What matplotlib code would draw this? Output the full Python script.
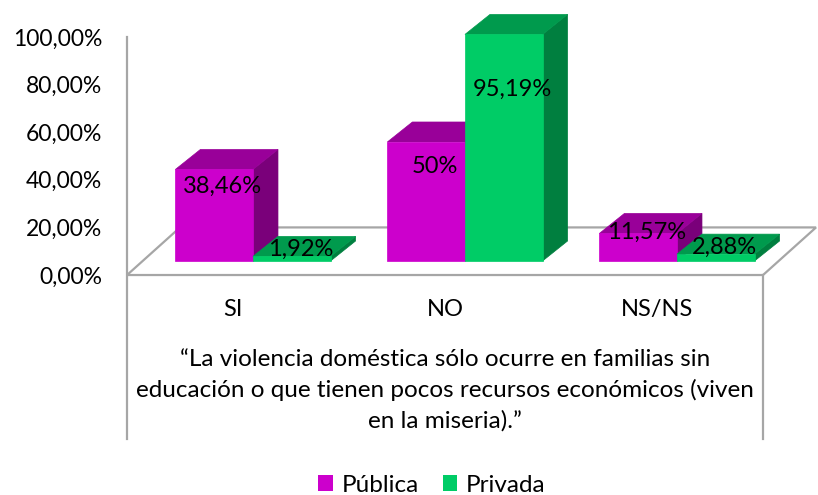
import matplotlib
matplotlib.use("Agg")
import matplotlib.pyplot as plt
from matplotlib.patches import Polygon, Patch

plt.rcParams['font.family'] = ['Lato', 'DejaVu Sans']

categorias = ["SI", "NO", "NS/NS"]
publica = [38.46, 50.0, 11.57]
privada = [1.92, 95.19, 2.88]
etiquetas_pub = ["38,46%", "50%", "11,57%"]
etiquetas_priv = ["1,92%", "95,19%", "2,88%"]
titulo_eje = ("“La violencia doméstica sólo ocurre en familias sin\n"
              "educación o que tienen pocos recursos económicos (viven\n"
              "en la miseria).”")

# colores: frente, tapa, lateral
col_pub = ("#cc00cc", "#990099", "#7a007a")
col_priv = ("#00cc66", "#009a4d", "#007f3f")

fig = plt.figure(figsize=(8.18, 4.95), dpi=100)
ax = fig.add_axes([0.1553, 0.4444, 0.7775, 0.4808])
ax.set_xlim(-0.5, 2.5)
ax.set_ylim(0, 100)
for s in ax.spines.values():
    s.set_visible(False)

gris = "#a6a6a6"
# piso en perspectiva
fdx, fdy = 0.25, 20.0
piso = Polygon([(-0.5, 0), (2.5, 0), (2.5 + fdx, fdy), (-0.5 + fdx, fdy)],
               closed=True, facecolor="white", edgecolor=gris, lw=1.6,
               zorder=1, clip_on=False)
ax.add_patch(piso)
# eje vertical y caja de categorias
ax.plot([-0.5, -0.5], [100, -69], color=gris, lw=1.6, clip_on=False, zorder=1)
ax.plot([2.5, 2.5], [0, -69], color=gris, lw=1.6, clip_on=False, zorder=1)

base = 5.9
ancho = 0.366
desp = 0.094
ddx, ddy = 0.118, 8.4


def barra3d(x0, v, cols, z):
    frente = Polygon([(x0, base), (x0 + ancho, base), (x0 + ancho, base + v), (x0, base + v)],
                     closed=True, facecolor=cols[0], edgecolor=cols[0], lw=0.5, zorder=z, clip_on=False)
    tapa = Polygon([(x0, base + v), (x0 + ancho, base + v),
                    (x0 + ancho + ddx, base + v + ddy), (x0 + ddx, base + v + ddy)],
                   closed=True, facecolor=cols[1], edgecolor=cols[1], lw=0.5, zorder=z, clip_on=False)
    lado = Polygon([(x0 + ancho, base), (x0 + ancho + ddx, base + ddy),
                    (x0 + ancho + ddx, base + v + ddy), (x0 + ancho, base + v)],
                   closed=True, facecolor=cols[2], edgecolor=cols[2], lw=0.5, zorder=z, clip_on=False)
    for p in (lado, tapa, frente):
        ax.add_patch(p)


z = 2
for i in range(len(categorias)):
    xp = i + desp - ancho
    xv = i + desp
    barra3d(xp, publica[i], col_pub, z)
    barra3d(xv, privada[i], col_priv, z + 1)
    z += 2

# etiquetas de valor
for i in range(len(categorias)):
    for x0, v, txt in ((i + desp - ancho, publica[i], etiquetas_pub[i]),
                       (i + desp, privada[i], etiquetas_priv[i])):
        ax.text(x0 + ancho / 2 + 0.04, 9.5 + 0.72 * v, txt, ha="center", va="center",
                fontsize=17, color="black", zorder=20, clip_on=False)

ax.set_yticks([0, 20, 40, 60, 80, 100])
ax.set_yticklabels([f"{t:.2f}%".replace(".", ",") for t in [0, 20, 40, 60, 80, 100]])
ax.tick_params(axis="y", length=0, pad=18, labelsize=16.5)
ax.set_xticks(range(len(categorias)))
ax.set_xticklabels(categorias)
ax.tick_params(axis="x", length=0, pad=17, labelsize=17)

fig.text(0.544, 0.212, titulo_eje, ha="center", va="center", fontsize=17.5,
         linespacing=1.5)

handles = [Patch(facecolor=col_pub[0], label="Pública"),
           Patch(facecolor=col_priv[0], label="Privada")]
fig.legend(handles=handles, loc="center", bbox_to_anchor=(0.528, 0.02), ncol=2,
           frameon=False, fontsize=17.5, handlelength=0.6, handleheight=0.6,
           handletextpad=0.35, columnspacing=1.0)

fig.savefig("out.png", dpi=100)
